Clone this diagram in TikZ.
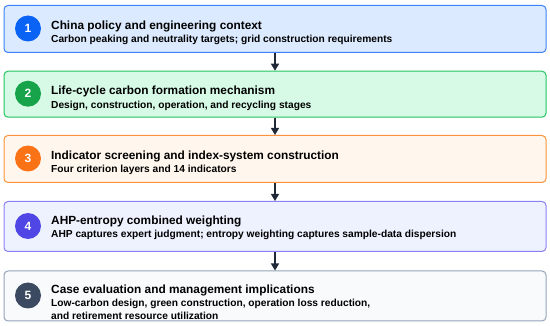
\documentclass[tikz,border=0pt]{standalone}
\usepackage{fontspec}
\setmainfont{Liberation Sans}
\usetikzlibrary{arrows.meta,positioning}
\definecolor{fillA}{HTML}{DBEAFE}\definecolor{lineA}{HTML}{3B82F6}\definecolor{dotA}{HTML}{0B63F6}
\definecolor{fillB}{HTML}{D6FAE6}\definecolor{lineB}{HTML}{22C55E}\definecolor{dotB}{HTML}{16A34A}
\definecolor{fillC}{HTML}{FFF7ED}\definecolor{lineC}{HTML}{FB923C}\definecolor{dotC}{HTML}{F97316}
\definecolor{fillD}{HTML}{EEF2FF}\definecolor{lineD}{HTML}{8B80F6}\definecolor{dotD}{HTML}{4F46E5}
\definecolor{fillE}{HTML}{F8FAFC}\definecolor{lineE}{HTML}{94A3B8}\definecolor{dotE}{HTML}{3B4A60}
\definecolor{arrowdark}{HTML}{1F2937}
\begin{document}
\begin{tikzpicture}[x=1pt,y=-1pt,
    stagebox/.style={draw, line width=1pt, rounded corners=4pt, minimum width=542pt, inner sep=0pt},
    badge/.style={circle, minimum size=26pt, inner sep=0pt, text=white, font=\bfseries\fontsize{12}{12}\selectfont},
    headline/.style={anchor=base west, inner sep=0pt, font=\bfseries\fontsize{11.85}{12}\selectfont},
    detail/.style={anchor=base west, inner sep=0pt, font=\bfseries\fontsize{10.2}{10}\selectfont},
    flow/.style={draw=arrowdark, line width=1.4pt, -{Triangle[length=7pt,width=8pt]}}]
    \useasboundingbox (0,0) rectangle (550,326);
    % stage boxes
    \node[stagebox, fill=fillA, draw=lineA, minimum height=47pt, anchor=north] (s1) at (275,5) {};
    \node[stagebox, fill=fillB, draw=lineB, minimum height=46pt, anchor=north] (s2) at (275,70.7) {};
    \node[stagebox, fill=fillC, draw=lineC, minimum height=47pt, anchor=north] (s3) at (275,135) {};
    \node[stagebox, fill=fillD, draw=lineD, minimum height=50pt, anchor=north] (s4) at (275,201) {};
    \node[stagebox, fill=fillE, draw=lineE, minimum height=50pt, anchor=north] (s5) at (275,270.5) {};
    % number badges
    \node[badge, fill=dotA] (n1) at (28,28.5) {1};
    \node[badge, fill=dotB] (n2) at (28,93.7) {2};
    \node[badge, fill=dotC] (n3) at (28,158.5) {3};
    \node[badge, fill=dotD] (n4) at (28,226) {4};
    \node[badge, fill=dotE] (n5) at (28,295.5) {5};
    % texts
    \node[headline] (t1) at (51,29.3) {China policy and engineering context};
    \node[detail] (d1) at (51,42.7) {Carbon peaking and neutrality targets; grid construction requirements};
    \node[headline] (t2) at (51,94.8) {Life-cycle carbon formation mechanism};
    \node[detail] (d2) at (51,108.2) {Design, construction, operation, and recycling stages};
    \node[headline] (t3) at (51,159.3) {Indicator screening and index-system construction};
    \node[detail] (d3) at (51,172.7) {Four criterion layers and 14 indicators};
    \node[headline] (t4) at (51,224.3) {AHP-entropy combined weighting};
    \node[detail] (d4) at (51,237.7) {AHP captures expert judgment; entropy weighting captures sample-data dispersion};
    \node[headline] (t5) at (51,293.5) {Case evaluation and management implications};
    \node[detail] (d5) at (51,306.7) {Low-carbon design, green construction, operation loss reduction,};
    \node[detail] (e5) at (51,319.2) {and retirement resource utilization};
    % arrows
    \draw[flow] (s1.south) -- (s2.north);
    \draw[flow] (s2.south) -- (s3.north);
    \draw[flow] (s3.south) -- (s4.north);
    \draw[flow] (s4.south) -- (s5.north);
\end{tikzpicture}
\end{document}
